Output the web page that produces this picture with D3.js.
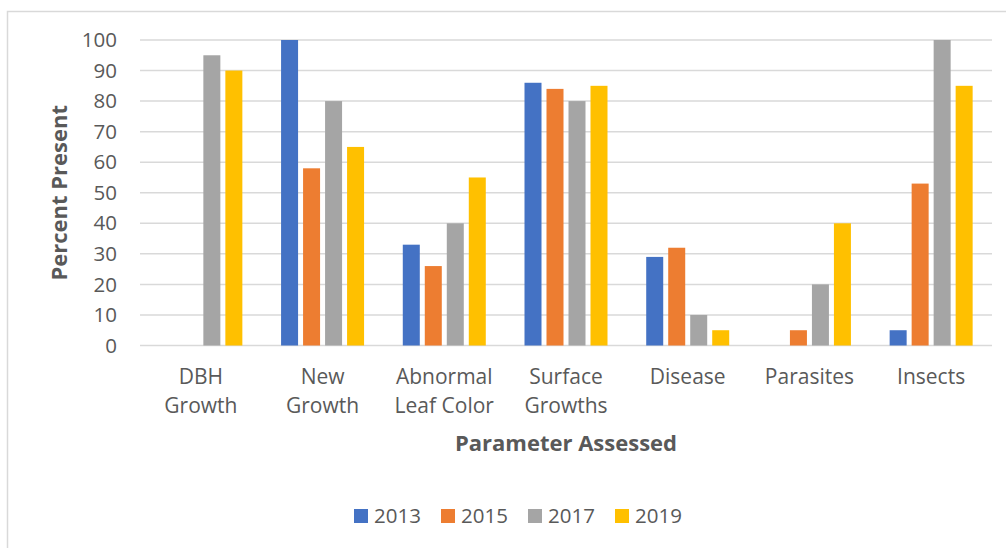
<!DOCTYPE html>
<html>
<head>
<meta charset="utf-8">
<script src="https://cdn.jsdelivr.net/npm/d3@7"></script>
<style>
  body { margin: 0; background: #fff; overflow: hidden; }
  text { font-family: "Open Sans", sans-serif; fill: #595959; }
</style>
</head>
<body>
<div class="chart"></div>
<script>
//Data
var categories = [["DBH", "Growth"], ["New", "Growth"], ["Abnormal", "Leaf Color"],
    ["Surface", "Growths"], ["Disease"], ["Parasites"], ["Insects"]];
var years = ["2013", "2015", "2017", "2019"];
var colors = ["#4472c4", "#ed7d31", "#a5a5a5", "#ffc000"];
var values2013 = [0, 100, 33, 86, 29, 0, 5];
var values2015 = [0, 58, 26, 84, 32, 5, 53];
var values2017 = [95, 80, 40, 80, 10, 20, 100];
var values2019 = [90, 65, 55, 85, 5, 40, 85];
var yTicks = [0, 10, 20, 30, 40, 50, 60, 70, 80, 90, 100];

var series = [values2013, values2015, values2017, values2019];

var width = 1006, height = 548;
var plot = { left: 140, right: 992, top: 40, bottom: 345.5 };

var svg = d3.select(".chart").append("svg")
    .attr("width", width)
    .attr("height", height);

//Outer border
svg.append("rect")
    .attr("x", 7.5).attr("y", 11.5)
    .attr("width", 1020).attr("height", 560)
    .attr("fill", "#fff")
    .attr("stroke", "#d9d9d9")
    .attr("stroke-width", 1.5);

var x = d3.scaleBand()
    .domain(d3.range(categories.length))
    .range([plot.left, plot.right]);

var y = d3.scaleLinear().domain([0, 100]).range([plot.bottom, plot.top]);

//Gridlines
svg.append("g").selectAll("line")
    .data(yTicks)
    .join("line")
    .attr("x1", plot.left).attr("x2", plot.right)
    .attr("y1", d => y(d)).attr("y2", d => y(d))
    .attr("stroke", "#d9d9d9")
    .attr("stroke-width", 1.5);

//Y tick labels
svg.append("g").selectAll("text")
    .data(yTicks)
    .join("text")
    .attr("x", 117)
    .attr("y", d => y(d))
    .attr("dy", "0.35em")
    .attr("text-anchor", "end")
    .style("font-size", "20.5px")
    .text(d => d);

//Bars
var barW = 17, barGap = 5;
var groupW = years.length * barW + (years.length - 1) * barGap;
var groups = svg.append("g").selectAll("g")
    .data(series)
    .join("g")
    .attr("fill", (d, i) => colors[i]);

groups.each(function (vals, si) {
    d3.select(this).selectAll("rect")
        .data(vals)
        .join("rect")
        .attr("x", (v, ci) => x(ci) + x.bandwidth() / 2 - groupW / 2 + si * (barW + barGap))
        .attr("y", v => y(v))
        .attr("width", barW)
        .attr("height", v => y(0) - y(v));
});

//Category labels
var cats = svg.append("g").selectAll("text")
    .data(categories)
    .join("text")
    .attr("text-anchor", "middle")
    .style("font-size", "21px");
cats.each(function (lines, ci) {
    d3.select(this).selectAll("tspan")
        .data(lines)
        .join("tspan")
        .attr("x", x(ci) + x.bandwidth() / 2)
        .attr("y", (l, li) => 384 + li * 29)
        .text(l => l);
});

//Axis titles
svg.append("text")
    .attr("transform", "translate(67," + ((plot.top + plot.bottom) / 2) + ") rotate(-90)")
    .attr("text-anchor", "middle")
    .style("font-size", "22px")
    .style("font-weight", "bold")
    .text("Percent Present");

svg.append("text")
    .attr("x", 566)
    .attr("y", 451)
    .attr("text-anchor", "middle")
    .style("font-size", "22px")
    .style("font-weight", "bold")
    .text("Parameter Assessed");

//Legend
var legendX = [354, 441, 528, 615];
var legend = svg.append("g").selectAll("g")
    .data(years)
    .join("g")
    .attr("transform", (d, i) => "translate(" + legendX[i] + ",509)");
legend.append("rect")
    .attr("width", 14).attr("height", 14)
    .attr("fill", (d, i) => colors[i]);
legend.append("text")
    .attr("x", 20).attr("y", 7)
    .attr("dy", "0.35em")
    .style("font-size", "20.5px")
    .text(d => d);
</script>
</body>
</html>
